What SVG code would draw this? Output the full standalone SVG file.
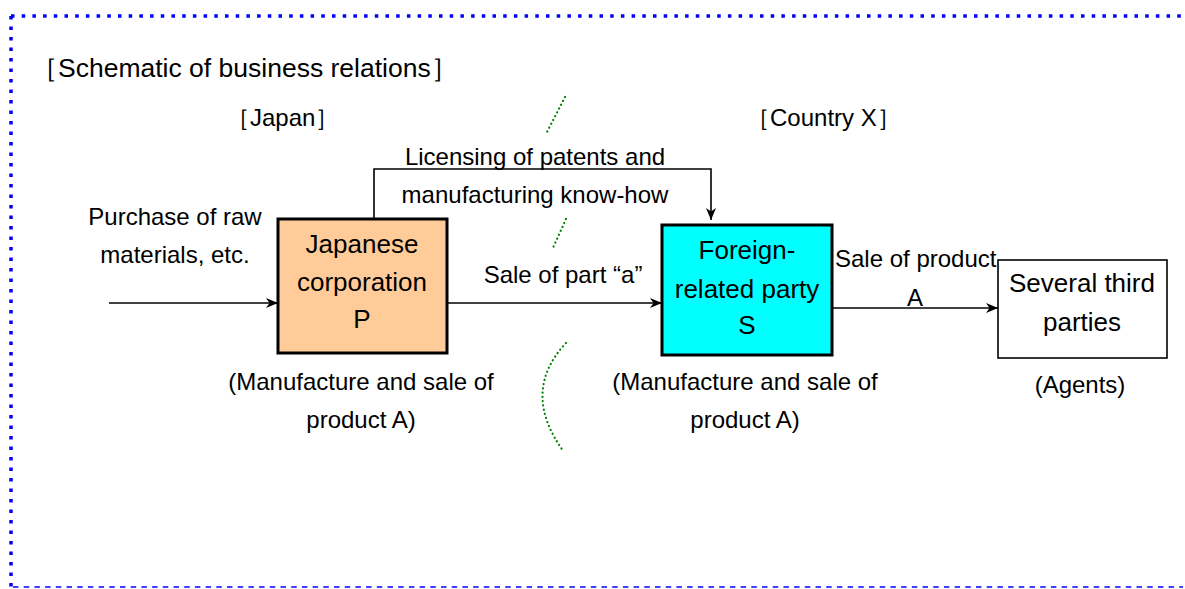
<svg xmlns="http://www.w3.org/2000/svg" width="1185" height="589" viewBox="0 0 1185 589">
<style>
text{font-family:"Liberation Sans",Arial,sans-serif;font-size:24px;fill:#000}
.c{text-anchor:middle}
.t{font-size:26.5px}
.b{font-size:26px}
.box{stroke:#000;stroke-width:3}
.ln{fill:none;stroke:#000;stroke-width:1.6}
.grn{fill:none;stroke:#008000;stroke-width:2.2;stroke-dasharray:0.1 4.2;stroke-linecap:round}
</style>
<defs>
<marker id="ah" viewBox="0 0 12 10" refX="12" refY="5" markerWidth="12" markerHeight="10" markerUnits="userSpaceOnUse" orient="auto">
<path d="M0,0 L12,5 L0,10 L3.5,5 Z" fill="#000"/>
</marker>
</defs>
<g id="frame">
<line x1="11" y1="16" x2="1183" y2="16" stroke="#0000ff" stroke-width="3.5" stroke-dasharray="3.5 7.2"/>
<line x1="11" y1="16" x2="11" y2="587" stroke="#0000ff" stroke-width="3.5" stroke-dasharray="3.5 7"/>
<line x1="13" y1="587" x2="1183" y2="587" stroke="#0000ff" stroke-width="1.6" stroke-dasharray="5.5 5.2"/>
</g>
<g id="titles">
<text class="t" x="31" y="77">［Schematic of business relations］</text>
<text x="226" y="126">［Japan］</text>
<text x="746" y="126">［Country X］</text>
</g>
<g id="border-marks">
<path class="grn" d="M565,97 L547,132"/>
<path class="grn" d="M566,219 L552,250"/>
<path class="grn" d="M566,343 Q520,392 564,452"/>
</g>
<g id="connectors">
<line class="ln" x1="109" y1="303" x2="278" y2="303" marker-end="url(#ah)"/>
<line class="ln" x1="447" y1="303" x2="662" y2="303" marker-end="url(#ah)"/>
<line class="ln" x1="832" y1="308" x2="998" y2="308" marker-end="url(#ah)"/>
<polyline class="ln" points="374,218 374,169 711,169 711,220" marker-end="url(#ah)"/>
</g>
<g id="labels">
<text class="c" x="175" y="225">Purchase of raw</text>
<text class="c" x="175" y="263">materials, etc.</text>
<text class="c" x="535" y="165">Licensing of patents and</text>
<text class="c" x="535" y="203">manufacturing know-how</text>
<text class="c" x="563" y="283">Sale of part “a”</text>
<text x="835" y="267">Sale of product</text>
<text class="c" x="915" y="306">A</text>
</g>
<g id="node-P">
<rect class="box" x="278" y="219" width="169" height="134" fill="#ffcc99"/>
<text class="c b" x="362" y="253">Japanese</text>
<text class="c b" x="362" y="291">corporation</text>
<text class="c b" x="362" y="328">P</text>
<text class="c" x="361" y="390">(Manufacture and sale of</text>
<text class="c" x="361" y="428">product A)</text>
</g>
<g id="node-S">
<rect class="box" x="662" y="225" width="170" height="130" fill="#00ffff"/>
<text class="c b" x="747" y="259">Foreign-</text>
<text class="c b" x="747" y="298">related party</text>
<text class="c b" x="747" y="334">S</text>
<text class="c" x="745" y="390">(Manufacture and sale of</text>
<text class="c" x="745" y="428">product A)</text>
</g>
<g id="node-third">
<rect x="998" y="260" width="169" height="98" fill="#fff" stroke="#000" stroke-width="1.6"/>
<text class="c b" x="1082" y="292">Several third</text>
<text class="c b" x="1082" y="331">parties</text>
<text class="c" x="1080" y="393">(Agents)</text>
</g>
</svg>
